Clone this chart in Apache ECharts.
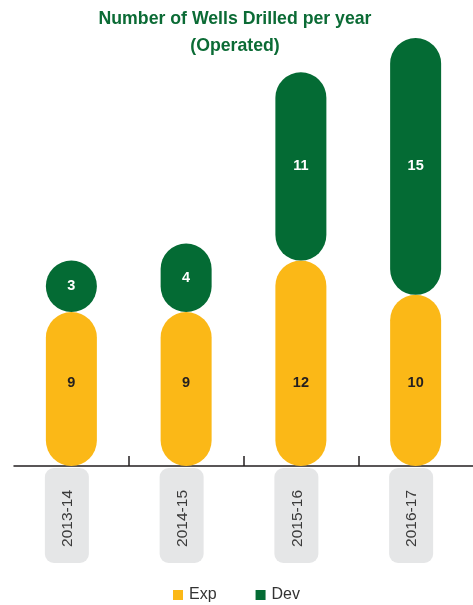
<!DOCTYPE html>
<html>
<head>
<meta charset="utf-8">
<script src="https://cdn.jsdelivr.net/npm/echarts@6/dist/echarts.min.js"></script>
<style>
  html, body { margin: 0; padding: 0; background: #fff; }
  #chart { width: 473px; height: 605px; }
</style>
</head>
<body>
<div id="chart"></div>
<script>
// Wells drilled per financial year, split into exploratory and development wells
const years = ['2013-14', '2014-15', '2015-16', '2016-17'];
const expWells = [9, 9, 12, 10];
const devWells = [3, 4, 11, 15];

// year dividers on the baseline: the boundaries between neighbouring years
const dividers = years.slice(1).map(function (_, i) { return i + 1; });

const GREEN = '#046b34';
const YELLOW = '#fbb817';
const FONT = "'Liberation Sans', Arial, sans-serif";

const chart = echarts.init(document.getElementById('chart'), null, { renderer: 'canvas' });

chart.setOption({
  animation: false,
  backgroundColor: '#ffffff',
  title: {
    text: 'Number of Wells Drilled per year\n(Operated)',
    left: 230,
    textAlign: 'center',
    top: 1,
    textStyle: {
      color: '#0b6b35',
      fontFamily: FONT,
      fontWeight: 'bold',
      fontSize: 17.7,
      lineHeight: 27
    }
  },
  legend: {
    data: ['Exp', 'Dev'],
    left: 'center',
    top: 582,
    icon: 'rect',
    itemWidth: 10,
    itemHeight: 10,
    itemGap: 39,
    textStyle: { color: '#333333', fontSize: 16, fontFamily: FONT, padding: [0, 0, 0, 1] }
  },
  grid: { left: 14, right: 0, top: 21, bottom: 139, containLabel: false },
  xAxis: [
    {
      type: 'category',
      data: years,
      axisLine: { lineStyle: { color: '#231f20', width: 1.5 } },
      axisTick: { show: false },
      axisLabel: {
        rotate: 90,
        margin: 2,
        formatter: function (v) { return '{box|' + v + '}'; },
        padding: [0, 0, 9, 0],
        rich: {
          box: {
            color: '#3a3a3a',
            fontSize: 15.5,
            fontFamily: FONT,
            backgroundColor: '#e5e6e7',
            borderRadius: 9,
            padding: [15, 22, 13, 16]
          }
        }
      }
    },
    {
      // tick-only axis marking the dividers between years
      type: 'value',
      position: 'bottom',
      min: 0,
      max: years.length,
      axisLine: { show: false },
      axisLabel: { show: false },
      splitLine: { show: false },
      axisTick: {
        show: true,
        inside: true,
        length: 10,
        customValues: dividers,
        lineStyle: { color: '#231f20', width: 1.5 }
      }
    }
  ],
  yAxis: {
    type: 'value',
    min: 0,
    max: 26,
    show: false,
    splitLine: { show: false }
  },
  series: [
    {
      name: 'Exp',
      type: 'bar',
      stack: 'wells',
      data: expWells,
      barWidth: 51,
      itemStyle: { color: YELLOW, borderRadius: 26 },
      label: {
        show: true,
        position: 'insideBottom',
        distance: 76,
        color: '#231f20',
        fontFamily: FONT,
        fontWeight: 'bold',
        fontSize: 14.5
      }
    },
    {
      name: 'Dev',
      type: 'bar',
      stack: 'wells',
      data: devWells,
      barWidth: 51,
      itemStyle: { color: GREEN, borderRadius: 26 },
      label: {
        show: true,
        position: 'inside',
        color: '#ffffff',
        fontFamily: FONT,
        fontWeight: 'bold',
        fontSize: 14.5
      }
    }
  ]
});
</script>
</body>
</html>
